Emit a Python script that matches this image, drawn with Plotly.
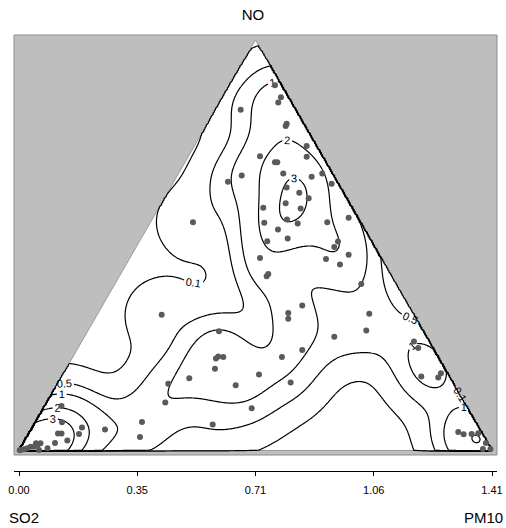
import numpy as np
import plotly.graph_objects as go

# simplex geometry (side sqrt(2))
S = float(np.sqrt(2.0))
H = float(S * np.sqrt(3) / 2)

# observations in plot coordinates (x along SO2->PM10 base, y towards NO)
pt_x = [0.6628, 0.7653, 0.7832, 0.7752, 0.8003, 0.7973, 0.8601, 0.8601, 0.7205, 0.7653,
        0.7722, 0.7901, 0.8750, 0.9067, 0.9348, 0.8003, 0.8380, 0.8661, 0.7973, 0.8421,
        0.7303, 0.7333, 0.8012, 0.8332, 0.9217, 0.9856, 0.7743, 0.8033, 0.7423, 0.9537,
        0.9426, 0.6658, 0.6248, 0.5202, 0.7205, 0.9178, 0.9856, 0.9596, 0.7453, 0.7405,
        1.0233, 0.8469, 0.8051, 0.8051, 1.0472, 1.0383, 0.9426, 1.1809, 1.1937, 0.8469,
        0.7862, 0.7175, 0.8122, 1.2027, 1.2535, 1.2616, 0.6957, 1.3133, 1.3294, 1.3533,
        1.3731, 1.3961, 1.3871, 1.4095, 0.4266, 0.5979, 0.5889, 0.5958, 0.6108, 0.5859,
        0.5091, 0.4463, 0.6478, 0.4374, 0.3677, 0.5791, 0.2571, 0.3617, 0.1271, 0.1286,
        0.1166, 0.1271, 0.1883, 0.1794, 0.1444, 0.1076, 0.0643, 0.0508, 0.0553, 0.0448,
        0.0350, 0.0248, 0.0149, 0.0051, 0.0020, 0.0852, 0.0598]
pt_y = [1.0170, 1.0897, 1.0538, 1.0380, 0.9752, 0.9680, 0.9082, 0.8765, 0.8783, 0.8604,
        0.8604, 0.8266, 0.8167, 0.8266, 0.7958, 0.7847, 0.7689, 0.7528, 0.7378, 0.7220,
        0.7241, 0.6792, 0.6891, 0.6771, 0.6810, 0.6942, 0.6592, 0.6323, 0.6242, 0.6233,
        0.6075, 0.8206, 0.8018, 0.6810, 0.5746, 0.5716, 0.5844, 0.5546, 0.5267, 0.5196,
        0.4969, 0.4329, 0.4102, 0.3931, 0.4081, 0.3581, 0.3393, 0.3253, 0.3055, 0.2996,
        0.2786, 0.2266, 0.2027, 0.2206, 0.2176, 0.2308, 0.1262, 0.0553, 0.0484, 0.0493,
        0.0514, 0.0224, 0.0045, 0.0045, 0.4051, 0.3557, 0.2744, 0.2804, 0.2786, 0.2436,
        0.2158, 0.1988, 0.1943, 0.1429, 0.0852, 0.0777, 0.0628, 0.0404, 0.1330, 0.0843,
        0.0508, 0.0508, 0.0682, 0.0493, 0.0299, 0.0224, 0.0215, 0.0215, 0.0164, 0.0114,
        0.0114, 0.0066, 0.0036, 0.0015, 0.0010, 0.0066, 0.0015]

levels = [0.1, 0.5, 1, 2, 3]
tick_vals = [0.0, S / 4, S / 2, 3 * S / 4, S]
tick_text = ["0.00", "0.35", "0.71", "1.06", "1.41"]
title_top = "NO"
label_left = "SO2"
label_right = "PM10"

FONT = "Liberation Sans, Arial, Helvetica, sans-serif"

# Gaussian kernel density estimate in plot coordinates, zero outside the triangle
px = np.array(pt_x)
py = np.array(pt_y)
bw = 0.07
xr = [-0.01495, S + 0.01495]
yr = [-0.0135, H + 0.0150]
gx = np.linspace(xr[0], xr[1], 400)
gy = np.linspace(yr[0], yr[1], 350)
XX, YY = np.meshgrid(gx, gy)
dens = np.zeros_like(XX)
for a, b in zip(px, py):
    dens += np.exp(-((XX - a) ** 2 + (YY - b) ** 2) / (2 * bw * bw))
dens /= len(px) * 2 * np.pi * bw * bw
r3 = np.sqrt(3.0)
inside = (YY >= 0) & (YY <= r3 * XX) & (YY <= r3 * (S - XX))
dens[~inside] = 0.0

gx_l = [round(float(v), 5) for v in gx]
gy_l = [round(float(v), 5) for v in gy]
z_l = [[round(float(v), 4) for v in row] for row in dens]

fig = go.Figure()

for lvl in levels:
    fig.add_trace(go.Contour(
        x=gx_l, y=gy_l, z=z_l,
        autocontour=False,
        contours=dict(start=lvl, end=lvl, size=1, coloring="lines",
                      showlabels=True,
                      labelfont=dict(size=11, color="black", family=FONT),
                      labelformat=".1f" if lvl < 1 else ".0f"),
        colorscale=[[0, "black"], [1, "black"]],
        showscale=False,
        line=dict(width=1.2),
        hoverinfo="skip",
    ))

fig.add_trace(go.Scatter(
    x=pt_x, y=pt_y, mode="markers",
    marker=dict(size=6, color="#5a5a5a", line=dict(width=0)),
    hoverinfo="skip", showlegend=False,
))

W, HH = 506, 528
ml, mr, mt, mb = 14, 9, 35, 57
plot_h = HH - mt - mb
plot_w = W - ml - mr
ydom0 = 16 / plot_h

fig.update_layout(
    width=W, height=HH,
    margin=dict(l=ml, r=mr, t=mt, b=mb, pad=0, autoexpand=False),
    paper_bgcolor="white", plot_bgcolor="white",
    showlegend=False,
    font=dict(family=FONT, color="black"),
    xaxis=dict(range=xr, autorange=False, domain=[0, 1],
               anchor="free", position=0,
               showline=True, linecolor="black", linewidth=1,
               ticks="outside", ticklen=4, tickcolor="black", tickwidth=1,
               tickvals=tick_vals, ticktext=tick_text,
               tickfont=dict(size=11, color="black", family=FONT),
               ticklabelstandoff=5,
               showgrid=False, zeroline=False),
    yaxis=dict(range=yr, autorange=False, visible=False, domain=[ydom0, 1]),
    title=dict(text=title_top, x=0.5, xanchor="center", y=1 - 15 / HH, yanchor="middle",
               font=dict(size=15, color="black", family=FONT)),
    shapes=[
        dict(type="rect", xref="x domain", yref="y domain", x0=0, x1=1, y0=0, y1=1,
             fillcolor="#bebebe", line=dict(color="#8c8c8c", width=1), layer="below"),
        dict(type="path", xref="x", yref="y",
             path=f"M 0,0 L {S},0 L {S / 2},{H} Z",
             fillcolor="white", line=dict(color="#9a9a9a", width=1), layer="below"),
    ],
    annotations=[
        dict(text=label_left, xref="paper", yref="paper", x=(7 - ml) / plot_w,
             y=(plot_h + mt - 517) / plot_h, xanchor="left", yanchor="middle",
             showarrow=False, font=dict(size=15, color="black", family=FONT)),
        dict(text=label_right, xref="paper", yref="paper", x=(505 - ml) / plot_w,
             y=(plot_h + mt - 517) / plot_h, xanchor="right", yanchor="middle",
             showarrow=False, font=dict(size=15, color="black", family=FONT)),
    ],
)

fig.write_html("out.html")
